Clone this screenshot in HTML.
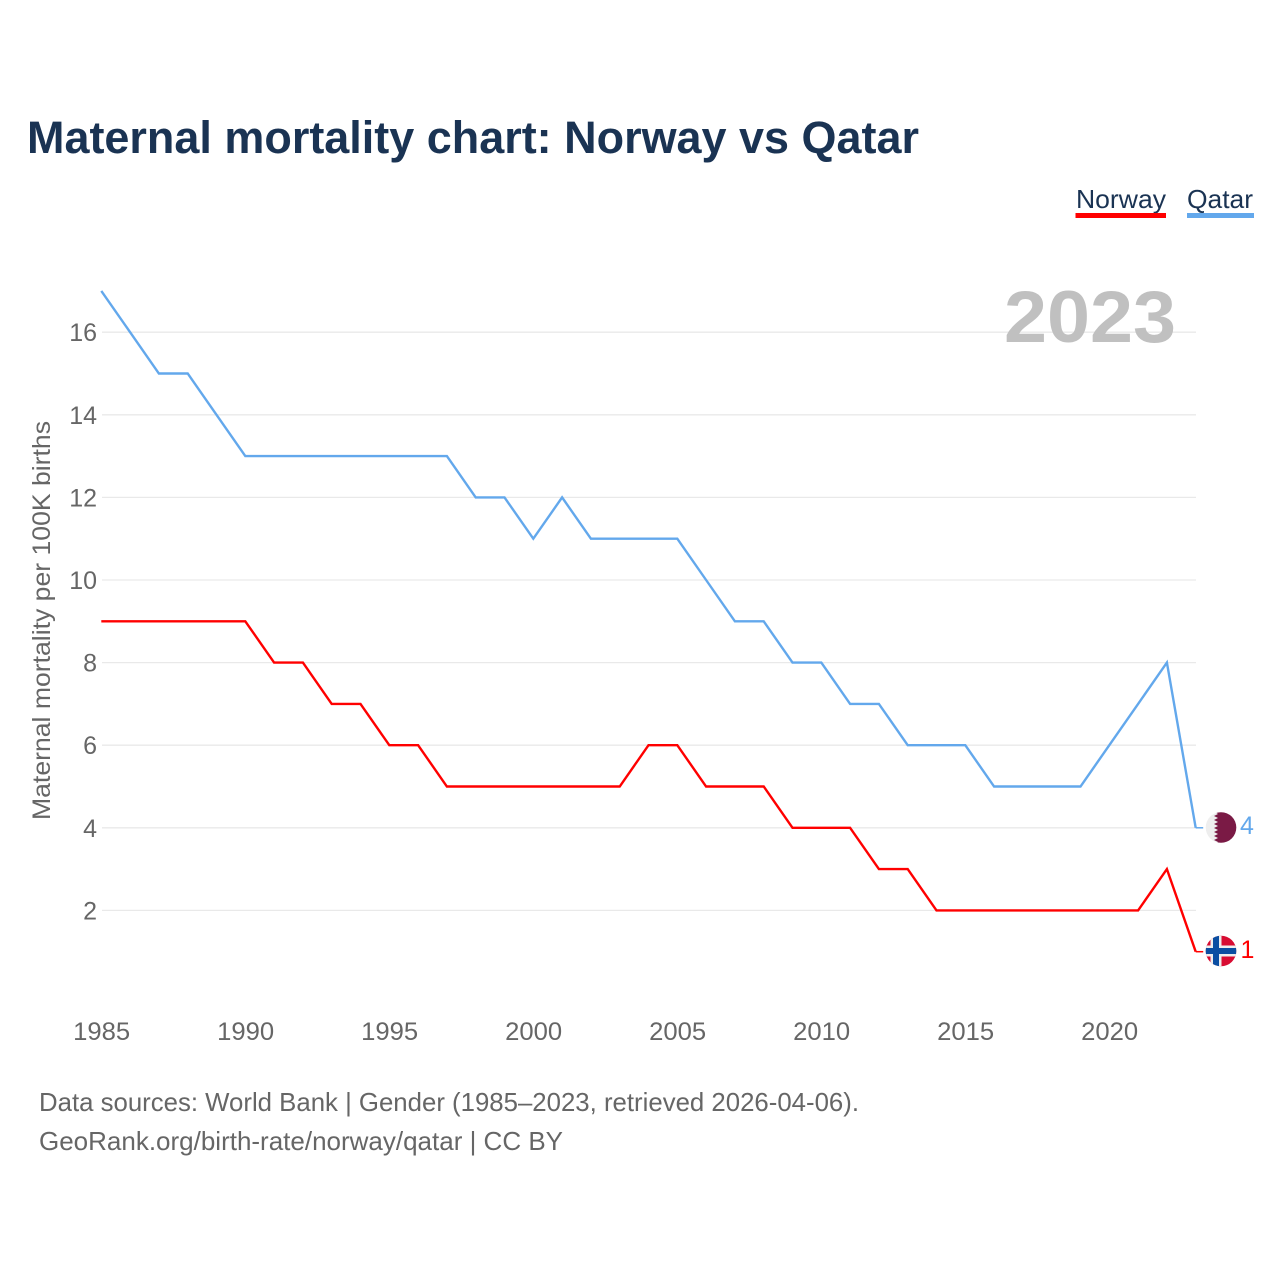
<!DOCTYPE html>
<html lang="en">
<head>
<meta charset="utf-8">
<title>Maternal mortality chart: Norway vs Qatar</title>
<style>
html,body{margin:0;padding:0;background:#fff;width:1280px;height:1280px;overflow:hidden}
svg{display:block}
text{font-family:"Liberation Sans",sans-serif}
</style>
</head>
<body>
<svg id="chart" xmlns="http://www.w3.org/2000/svg" width="1280" height="1280" viewBox="0 0 1280 1280">
  <rect x="0" y="0" width="1280" height="1280" fill="#ffffff"/>
  <text x="27" y="153" font-size="45" font-weight="700" fill="#1a3353" textLength="892" lengthAdjust="spacingAndGlyphs">Maternal mortality chart: Norway vs Qatar</text>

  <g>
    <g>
      <text x="1076" y="208" font-size="26" fill="#1a3353" textLength="90" lengthAdjust="spacingAndGlyphs">Norway</text>
      <rect x="1075.500" y="213" width="90.500" height="5" fill="#ff0000"/>
    </g>
    <g>
      <text x="1187" y="208" font-size="26" fill="#1a3353" textLength="66" lengthAdjust="spacingAndGlyphs">Qatar</text>
      <rect x="1187" y="213" width="67" height="5" fill="#63a8ec"/>
    </g>
  </g>

  <g id="grid"></g>
  <text x="1176" y="342" font-size="73" font-weight="700" fill="#c0c0c0" text-anchor="end" textLength="172" lengthAdjust="spacingAndGlyphs">2023</text>
  <g id="yticks"></g>
  <g id="xticks"></g>
  <text transform="translate(50,820) rotate(-90)" font-size="25" fill="#666666" textLength="399" lengthAdjust="spacingAndGlyphs">Maternal mortality per 100K births</text>
  <g id="series"></g>

  <defs>
    <clipPath id="qatar-clip"><circle cx="1221" cy="827.500" r="15.300"/></clipPath>
    <clipPath id="norway-clip"><circle cx="1221" cy="951" r="15.300"/></clipPath>
  </defs>
  <g clip-path="url(#qatar-clip)">
    <rect x="1205" y="812" width="32" height="32" fill="#eeeeee"/>
    <polygon fill="#7a1a45" points="1237,812 1215,812 1218,814 1214,816 1218,818 1214,820 1218,822 1214,824 1218,826 1214,828 1218,830 1214,832 1218,834 1214,836 1218,838 1214,840 1218,842 1215,844 1237,844"/>
  </g>
  <g clip-path="url(#norway-clip)">
    <rect x="1205" y="935" width="32" height="32" fill="#d80c32"/>
    <rect x="1210.500" y="935" width="11" height="32" fill="#eeeeee"/>
    <rect x="1205" y="945.500" width="32" height="11" fill="#eeeeee"/>
    <rect x="1213" y="935" width="6" height="32" fill="#0b4ea2"/>
    <rect x="1205" y="948" width="32" height="6" fill="#0b4ea2"/>
  </g>
  <text id="qatar-end" x="1240" y="834" font-size="25" fill="#63a8ec"></text>
  <text id="norway-end" x="1240.500" y="958" font-size="25" fill="#ff0000"></text>

  <text x="39" y="1111" font-size="26" fill="#666666" textLength="820" lengthAdjust="spacingAndGlyphs">Data sources: World Bank | Gender (1985–2023, retrieved 2026-04-06).</text>
  <text x="39" y="1150" font-size="26" fill="#666666" textLength="524" lengthAdjust="spacingAndGlyphs">GeoRank.org/birth-rate/norway/qatar | CC BY</text>
</svg>
<script>
const years = [1985,1986,1987,1988,1989,1990,1991,1992,1993,1994,1995,1996,1997,1998,1999,2000,2001,2002,2003,2004,2005,2006,2007,2008,2009,2010,2011,2012,2013,2014,2015,2016,2017,2018,2019,2020,2021,2022,2023];
const norway = [9,9,9,9,9,9,8,8,7,7,6,6,5,5,5,5,5,5,5,6,6,5,5,5,4,4,4,3,3,2,2,2,2,2,2,2,2,3,1];
const qatar = [17,16,15,15,14,13,13,13,13,13,13,13,13,12,12,11,12,11,11,11,11,10,9,9,8,8,7,7,6,6,6,5,5,5,5,6,7,8,4];
const yTickValues = [2,4,6,8,10,12,14,16];
const xTickValues = [1985,1990,1995,2000,2005,2010,2015,2020];

const SVG_NS = 'http://www.w3.org/2000/svg';
function xScale(year) { return 101.3 + (year - 1985) * 28.8; }
function yScale(value) { return 993 - value * 41.3; }
function make(tag, attrs, parent) {
  const el = document.createElementNS(SVG_NS, tag);
  for (const k in attrs) el.setAttribute(k, attrs[k]);
  parent.appendChild(el);
  return el;
}

const grid = document.getElementById('grid');
const yticks = document.getElementById('yticks');
yTickValues.forEach(function (v) {
  const line = make('line', {x1: 102, x2: 1196, y1: yScale(v), y2: yScale(v), stroke: '#e9e9e9', 'stroke-width': 1.3}, grid);
  
  
  const label = make('text', {x: 97, y: yScale(v) + 9, 'font-size': 25, fill: '#666666', 'text-anchor': 'end'}, yticks);
  
  
  label.textContent = v;
});

const xticks = document.getElementById('xticks');
xTickValues.forEach(function (y) {
  const label = make('text', {x: xScale(y) + 0.4, y: 1040, 'font-size': 25, fill: '#666666', 'text-anchor': 'middle', textLength: 57, lengthAdjust: 'spacingAndGlyphs'}, xticks);
  
  
  label.textContent = y;
});

const seriesGroup = document.getElementById('series');
function drawSeries(values, color, lineName, connectorName) {
  const pts = values.map(function (v, i) { return xScale(years[i]).toFixed(1) + ',' + yScale(v).toFixed(1); }).join(' ');
  const line = make('polyline', {points: pts, fill: 'none', stroke: color, 'stroke-width': 2.4, 'stroke-linejoin': 'miter'}, seriesGroup);
  
  
  const last = values[values.length - 1];
  const lastX = xScale(years[years.length - 1]);
  const conn = make('line', {x1: lastX, x2: lastX + 7.5, y1: yScale(last), y2: yScale(last), stroke: color, 'stroke-width': 1.5}, seriesGroup);
  
  
}
drawSeries(qatar, '#63a8ec', 'qatar-line', 'qatar-end-connector');
drawSeries(norway, '#ff0000', 'norway-line', 'norway-end-connector');

document.getElementById('qatar-end').textContent = qatar[qatar.length - 1];
document.getElementById('norway-end').textContent = norway[norway.length - 1];
</script>
</body>
</html>
